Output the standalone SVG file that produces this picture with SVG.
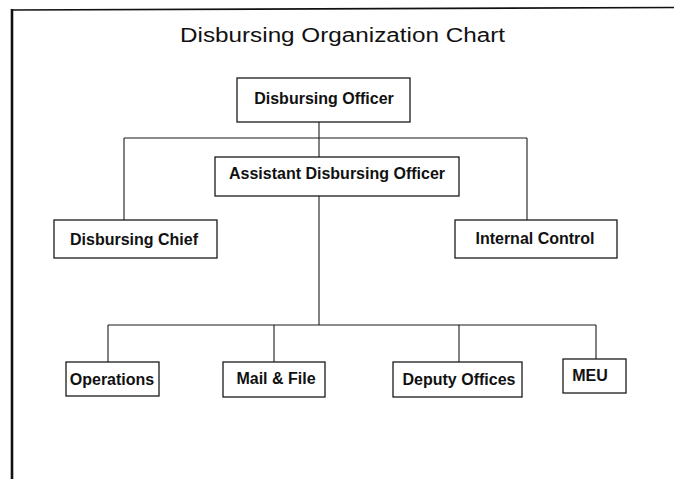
<svg xmlns="http://www.w3.org/2000/svg" width="674" height="479" viewBox="0 0 674 479">
<style>
.box{fill:#fff;stroke:#1a1a1a;stroke-width:1.3}
.lbl{font-family:"Liberation Sans",Arial,sans-serif;font-weight:bold;font-size:16px;fill:#111;text-anchor:middle}
.title{font-family:"Liberation Sans",Arial,sans-serif;font-size:20px;fill:#111}
.conn line{stroke:#1a1a1a;stroke-width:1.1}
.frame{stroke:#111;fill:none}
</style>
<rect width="674" height="479" fill="#fff"/>
<g id="frame">
<line class="frame" x1="11" y1="10" x2="674" y2="7.5" stroke-width="1.6"/>
<line class="frame" x1="12" y1="9" x2="12" y2="479" stroke-width="2.6"/>
</g>
<text class="title" x="180" y="42" textLength="325" lengthAdjust="spacingAndGlyphs">Disbursing Organization Chart</text>
<g id="connectors" class="conn">
<line x1="319" y1="122" x2="319" y2="157"/>
<line x1="124" y1="138" x2="527" y2="138"/>
<line x1="124" y1="138" x2="124" y2="220"/>
<line x1="527" y1="138" x2="527" y2="220"/>
<line x1="319" y1="196" x2="319" y2="325"/>
<line x1="108" y1="325" x2="596" y2="325"/>
<line x1="108" y1="325" x2="108" y2="362"/>
<line x1="274" y1="325" x2="274" y2="362"/>
<line x1="459" y1="325" x2="459" y2="362"/>
<line x1="596" y1="325" x2="596" y2="359"/>
</g>
<g id="disbursing-officer">
<rect class="box" x="237" y="78" width="173" height="44"/>
<text class="lbl" x="324" y="104">Disbursing Officer</text>
</g>
<g id="assistant-disbursing-officer">
<rect class="box" x="215" y="157" width="244" height="39"/>
<text class="lbl" x="337" y="179">Assistant Disbursing Officer</text>
</g>
<g id="disbursing-chief">
<rect class="box" x="54" y="220" width="163" height="38"/>
<text class="lbl" x="134" y="245">Disbursing Chief</text>
</g>
<g id="internal-control">
<rect class="box" x="455" y="220" width="162" height="38"/>
<text class="lbl" x="535" y="244">Internal Control</text>
</g>
<g id="operations">
<rect class="box" x="66" y="362" width="93" height="34"/>
<text class="lbl" x="112" y="385">Operations</text>
</g>
<g id="mail-file">
<rect class="box" x="223" y="362" width="102" height="35"/>
<text class="lbl" x="276" y="384">Mail &amp; File</text>
</g>
<g id="deputy-offices">
<rect class="box" x="393" y="362" width="129" height="35"/>
<text class="lbl" x="459" y="385">Deputy Offices</text>
</g>
<g id="meu">
<rect class="box" x="563" y="359" width="63" height="34"/>
<text class="lbl" x="590" y="381">MEU</text>
</g>
</svg>
